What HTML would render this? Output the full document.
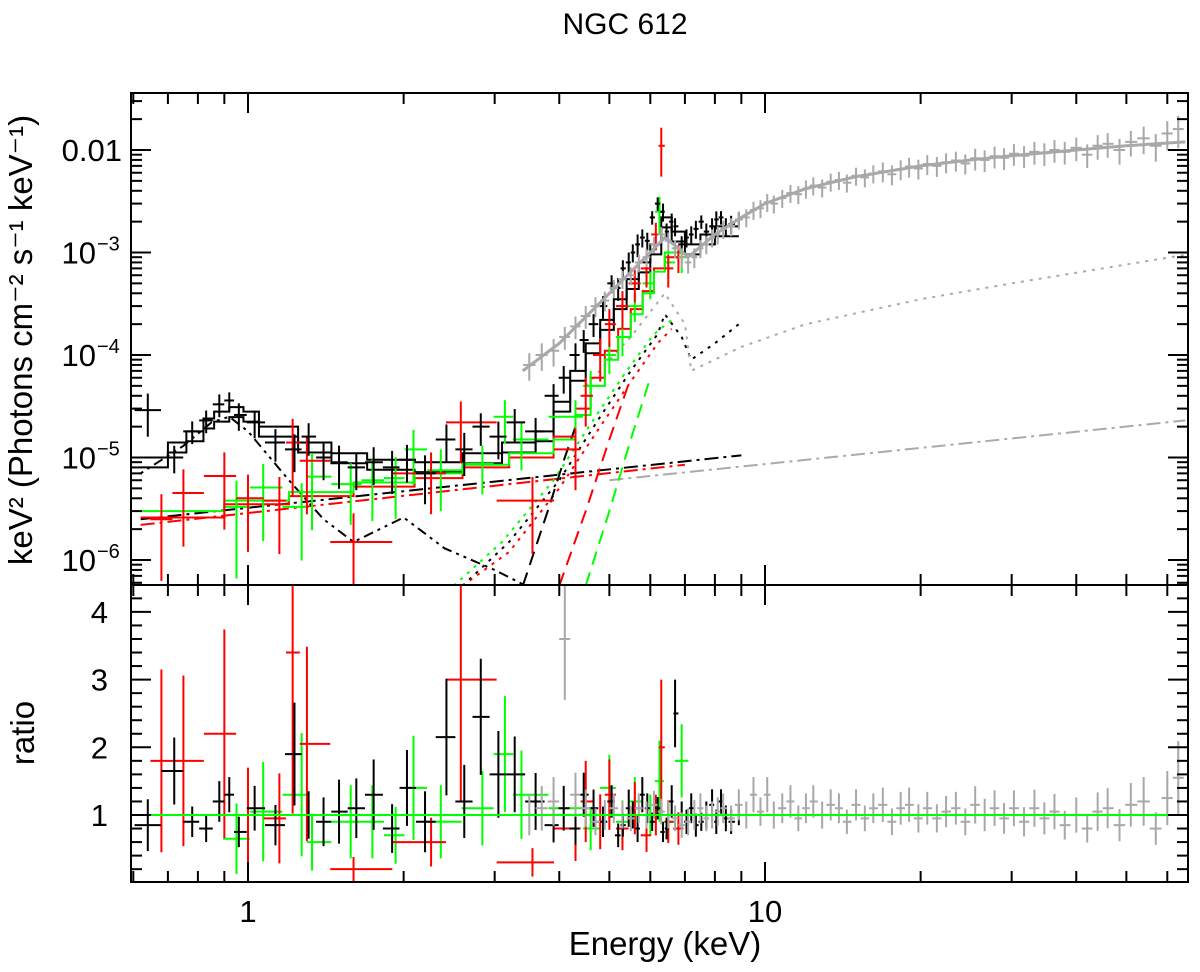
<!DOCTYPE html>
<html><head><meta charset="utf-8"><style>
body{margin:0;background:#fff}
svg{display:block;font-family:"Liberation Sans",sans-serif}
</style></head><body>
<svg id="c" width="1200" height="972" xmlns="http://www.w3.org/2000/svg">
<text x="625" y="34" font-size="30" text-anchor="middle">NGC 612</text>
<text transform="translate(32,340) rotate(-90)" font-size="33" text-anchor="middle">keV² (Photons cm⁻² s⁻¹ keV⁻¹)</text>
<text transform="translate(34,733) rotate(-90)" font-size="33" text-anchor="middle">ratio</text>
<text x="665" y="955" font-size="33" text-anchor="middle">Energy (keV)</text>
<g id="marks"></g>
<g id="axes"></g>
</svg>
<script>
const blackE=[0.64,0.72,0.78,0.83,0.88,0.92,0.96,1.03,1.13,1.23,1.31,1.40,1.50,1.62,1.75,1.90,2.03,2.20,2.42,2.62,2.82,3.05,3.28,3.6,3.9,4.08,4.3,4.46,4.66,4.86,5.05,5.2,5.31,5.45,5.55,5.67,5.79,5.92,6.05,6.2,6.35,6.45,6.6,6.7,6.9,7.05,7.2,7.35,7.53,7.7,7.9,8.05,8.22,8.4,8.6,8.9];
const blackF=[2.9e-5,1.0e-5,1.8e-5,2.3e-5,3.3e-5,3.6e-5,2.6e-5,2.2e-5,1.4e-5,1.2e-5,1.6e-5,1.0e-5,9e-6,8e-6,9e-6,8e-6,9.5e-6,7e-6,1.5e-5,1.2e-5,2.0e-5,1.6e-5,2.2e-5,1.8e-5,4e-5,6e-5,1.0e-4,1.4e-4,2.0e-4,3.0e-4,5e-4,4.5e-4,7e-4,8e-4,1.0e-3,1.2e-3,1.4e-3,1.3e-3,2.2e-3,3e-3,2.5e-3,1.6e-3,2e-3,1.8e-3,1.2e-3,1.4e-3,1.5e-3,1.7e-3,2.0e-3,1.6e-3,1.8e-3,2.1e-3,2.2e-3,1.8e-3,1.9e-3,2.1e-3];
const blackR=[0.85,1.65,0.9,0.8,1.2,1.3,0.75,1.1,0.85,1.9,1.0,0.9,1.05,1.1,1.3,0.8,1.4,0.9,2.15,1.2,2.45,1.6,1.6,1.2,0.85,1.1,0.8,1.3,1.1,0.9,1.2,0.7,0.85,1.1,1.0,0.8,1.3,1.1,0.9,1.1,0.75,0.8,1.2,2.5,1.0,0.9,1.1,0.85,0.9,1.0,1.15,0.9,1.2,0.95,0.9,1.0];
const blackErr=[0.45,0.3,0.25,0.25,0.25,0.2,0.3,0.3,0.35,0.4,0.35,0.4,0.45,0.4,0.4,0.45,0.4,0.5,0.4,0.45,0.35,0.4,0.35,0.35,0.3,0.3,0.3,0.25,0.25,0.25,0.2,0.25,0.2,0.25,0.2,0.25,0.2,0.2,0.15,0.15,0.2,0.2,0.2,0.2,0.2,0.2,0.2,0.2,0.15,0.2,0.2,0.2,0.15,0.2,0.2,0.15];
const redE=[0.68,0.75,0.90,1.0,1.15,1.22,1.30,1.6,2.26,2.58,3.55,4.3,4.5,4.8,5.0,5.3,5.6,5.9,6.15,6.3,6.5,6.8];
const redF=[2.5e-6,4.5e-6,6.6e-6,4e-6,3.8e-6,1.4e-5,9.3e-6,1.5e-6,7e-6,2.2e-5,3.8e-6,1.2e-5,4e-5,1e-4,2e-4,3e-4,5e-4,7e-4,1.5e-3,1.1e-2,7e-4,9e-4];
const redR=[1.8,1.8,2.2,1.0,0.95,3.4,2.05,0.2,0.6,3.0,0.3,0.8,1.2,0.9,1.3,0.8,1.1,0.7,1.0,2.0,0.9,0.8];
const redErr=[0.75,0.7,0.7,0.7,0.7,0.7,0.7,0.9,0.6,0.6,0.7,0.6,0.5,0.45,0.4,0.4,0.35,0.35,0.3,0.5,0.35,0.3];
const greenE=[0.95,1.07,1.27,1.33,1.58,1.74,1.93,2.09,2.36,2.84,3.14,3.38,4.3,4.6,5.0,5.3,5.6,6.0,6.25,6.5,6.9];
const greenF=[3.3e-6,5.1e-6,3.3e-6,6.5e-6,5.5e-6,6e-6,6.3e-6,1.2e-5,7.5e-6,8.7e-6,2.5e-5,1.5e-5,2.5e-5,5e-5,1e-4,1.5e-4,3e-4,5e-4,2.5e-3,8e-4,9e-4];
const greenR=[0.65,1.05,1.3,0.6,0.9,0.9,0.7,1.4,0.9,1.1,1.9,1.3,1.1,0.8,1.4,0.9,1.2,1.0,1.5,0.9,1.8];
const greenErr=[0.8,0.7,0.7,0.7,0.6,0.6,0.6,0.55,0.6,0.5,0.45,0.5,0.45,0.4,0.35,0.35,0.3,0.3,0.4,0.3,0.3];
const greyE=[3.5,3.7,3.9,4.1,4.3,4.5,4.7,4.9,5.1,5.3,5.5,5.7,5.9,6.1,6.3,6.5,6.7,6.9,7.1,7.3,7.5,7.7,7.9,8.1,8.3,8.6,8.9,9.2,9.5,9.8,10.1,10.4,10.8,11.2,11.6,12,12.4,12.9,13.4,13.9,14.4,15,15.6,16.2,16.9,17.6,18.3,19,19.8,20.6,21.5,22.4,23.4,24.4,25.5,26.6,27.8,29,30.3,31.7,33.2,34.7,36.3,38,40,42,44,46,48.5,51,54,57,60,63];
const greyF=[8e-5,1e-4,1.1e-4,1.5e-4,1.9e-4,2.4e-4,3e-4,3.4e-4,4.5e-4,5.5e-4,6e-4,8e-4,9e-4,1.2e-3,1.5e-3,1.3e-3,1.1e-3,9e-4,8e-4,9e-4,1.1e-3,1.2e-3,1.4e-3,1.5e-3,1.7e-3,1.8e-3,2.1e-3,2.2e-3,2.6e-3,2.7e-3,3.1e-3,3e-3,3.4e-3,3.8e-3,3.7e-3,4.2e-3,4.5e-3,4.3e-3,4.9e-3,5.1e-3,4.8e-3,5.6e-3,5.4e-3,5.9e-3,6.2e-3,5.8e-3,6.5e-3,6.9e-3,6.6e-3,7.3e-3,7e-3,7.6e-3,7.9e-3,7.4e-3,8.3e-3,8e-3,8.7e-3,8.4e-3,9.2e-3,8.8e-3,9.6e-3,9.3e-3,1.0e-2,9.6e-3,1.05e-2,9e-3,1.1e-2,1.15e-2,1.0e-2,1.2e-2,1.3e-2,1.1e-2,1.45e-2,1.6e-2];
const greyR=[1.0,1.1,1.2,3.6,1.3,1.1,0.9,1.0,1.1,1.0,0.95,1.1,1.0,1.15,1.05,1.0,0.95,0.85,0.9,1.0,1.1,0.95,1.0,1.05,1.1,0.95,1.15,1.0,1.3,1.05,1.3,1.0,1.1,1.2,0.95,1.1,1.2,1.0,1.15,1.1,0.9,1.15,0.95,1.1,1.15,0.9,1.1,1.15,0.95,1.1,0.95,1.05,1.1,0.9,1.15,1.0,1.1,0.95,1.1,0.9,1.1,0.95,1.05,0.85,1.0,0.8,1.05,1.1,0.85,1.15,1.2,0.8,1.25,1.55];
const greyErr=[0.3,0.3,0.3,0.25,0.25,0.25,0.22,0.22,0.2,0.2,0.2,0.2,0.2,0.18,0.18,0.2,0.2,0.22,0.22,0.22,0.2,0.2,0.2,0.2,0.2,0.2,0.2,0.2,0.2,0.2,0.2,0.2,0.2,0.2,0.2,0.2,0.2,0.2,0.2,0.2,0.2,0.2,0.2,0.2,0.22,0.22,0.22,0.22,0.22,0.22,0.22,0.22,0.22,0.22,0.24,0.24,0.24,0.24,0.24,0.24,0.25,0.25,0.25,0.25,0.26,0.26,0.27,0.27,0.28,0.28,0.3,0.3,0.32,0.35];
const blackModelE=[0.62,0.70,0.76,0.82,0.86,0.92,0.98,1.05,1.25,1.45,1.7,2.1,2.6,3.1,3.6,3.9,4.2,4.5,4.8,5.1,5.4,5.7,6.0,6.3,6.6,7.0,7.5,8.0,8.9];
const blackModelF=[1.0e-5,1.4e-5,1.8e-5,2.4e-5,2.8e-5,3.1e-5,2.8e-5,2.0e-5,1.4e-5,1.1e-5,9.5e-6,9e-6,1.1e-5,1.4e-5,1.8e-5,3.5e-5,7e-5,1.3e-4,2.2e-4,3.5e-4,5.5e-4,8e-4,1.2e-3,2.2e-3,1.6e-3,1.2e-3,1.5e-3,1.8e-3,2.0e-3];
const redModelE=[0.62,0.9,1.2,1.6,2.1,2.6,3.2,3.9,4.3,4.6,4.9,5.2,5.5,5.8,6.1,6.4,6.8];
const redModelF=[2.6e-6,3.5e-6,4.2e-6,5.2e-6,6.3e-6,8e-6,1.0e-5,1.6e-5,3e-5,6e-5,1.1e-4,1.8e-4,2.8e-4,4.2e-4,7e-4,9e-4,8e-4];
const greenModelE=[0.62,0.9,1.2,1.6,2.1,2.6,3.2,3.9,4.3,4.6,4.9,5.2,5.5,5.8,6.1,6.4,6.9];
const greenModelF=[3.0e-6,3.8e-6,4.6e-6,5.7e-6,7e-6,8.5e-6,1.1e-5,1.5e-5,2.6e-5,5e-5,9e-5,1.5e-4,2.5e-4,4e-4,6.5e-4,1e-3,9e-4];
const greyModelE=[3.4,4,5,6,6.4,6.8,7.1,8,9,10,12,15,20,25,30,40,50,65];
const greyModelF=[7e-5,1.3e-4,4e-4,1e-3,1.4e-3,1.1e-3,9e-4,1.5e-3,2.2e-3,3e-3,4.2e-3,5.5e-3,7e-3,8e-3,8.8e-3,1.0e-2,1.1e-2,1.2e-2];
const pexBlackE=[0.62,9.0], pexBlackF=[2.5e-6,1.05e-5];
const pexRedE=[0.62,7.0], pexRedF=[2.2e-6,8.5e-6];
const pexGreyE=[5.0,65], pexGreyF=[6e-6,2.3e-5];
const thermE=[0.62,0.75,0.85,0.92,1.0,1.2,1.4,1.6,2.0,2.4,3.0,3.6];
const thermF=[7e-6,1.3e-5,2.2e-5,2.5e-5,1.8e-5,6e-6,2.5e-6,1.5e-6,2.6e-6,1.3e-6,8e-7,5e-7];
const reflBlackE=[2.6,3.2,4.0,4.8,5.5,6.2,6.4,6.9,7.2,8.0,8.9];
const reflBlackF=[5.6e-7,1.5e-6,6e-6,2.5e-5,7e-5,1.6e-4,2.5e-4,1.5e-4,9e-5,1.3e-4,2e-4];
const reflRedE=[2.6,3.2,4.0,4.8,5.5,6.2,6.6];
const reflRedF=[5.6e-7,1.2e-6,5e-6,2e-5,5.5e-5,1.3e-4,1.8e-4];
const reflGreenE=[2.5,3.1,3.9,4.7,5.4,6.1,6.6];
const reflGreenF=[5.6e-7,1.5e-6,6e-6,2.5e-5,7e-5,1.6e-4,2.2e-4];
const reflGreyE=[4.5,5.5,6.4,7.0,7.2,9,12,20,30,45,65];
const reflGreyF=[5e-5,1.5e-4,4e-4,2e-4,7e-5,1.2e-4,2e-4,3.5e-4,5e-4,7e-4,9.5e-4];
const absBlackE=[3.4,3.8,4.1,4.3], absBlackF=[5.6e-7,3e-6,1e-5,2e-5];
const absRedE=[4.0,4.5,5.0,5.5], absRedF=[5.6e-7,3e-6,1.5e-5,6e-5];
const absGreenE=[4.5,5.0,5.5,6.0], absGreenF=[5.6e-7,3e-6,1.5e-5,6e-5];

const L=131,R=1188,T1=93,B1=585,B2=882;
const X0=248,DEC=517;
const xs=e=>X0+DEC*Math.log10(e);
const yt=f=>150-102.5*(Math.log10(f)+2);
const yr=r=>815-67.7*(r-1);
const NS='http://www.w3.org/2000/svg';
const marks=document.getElementById('marks'), axes=document.getElementById('axes');
function mk(tag,attrs,parent){const el=document.createElementNS(NS,tag);for(const k in attrs)el.setAttribute(k,attrs[k]);parent.appendChild(el);return el;}
const defs=mk('defs',{},marks);
const c1=mk('clipPath',{id:'cTop'},defs);mk('rect',{x:L,y:T1,width:R-L,height:B1-T1},c1);
const c2=mk('clipPath',{id:'cBot'},defs);mk('rect',{x:L,y:B1,width:R-L,height:B2-B1},c2);
const gTop=mk('g',{'clip-path':'url(#cTop)'},marks);


const gBot=mk('g',{'clip-path':'url(#cBot)'},marks);



function series(E,F,Rt,Er,color,name){
  for(let i=0;i<E.length;i++){
    const lo=i>0?Math.sqrt(E[i-1]*E[i]):E[i]/Math.sqrt(E[i+1]/E[i]);
    const hi=i<E.length-1?Math.sqrt(E[i]*E[i+1]):E[i]*Math.sqrt(E[i]/E[i-1]);
    const x=xs(E[i]);
    const g=mk('g',{stroke:color,'stroke-width':2},gTop);
    
    
    mk('line',{x1:xs(lo),x2:xs(hi),y1:yt(F[i]),y2:yt(F[i])},g);
    mk('line',{x1:x,x2:x,y1:yt(F[i]*(1+Er[i])),y2:yt(Math.max(F[i]*(1-Er[i]),1e-8))},g);
    const g2=mk('g',{stroke:color,'stroke-width':2},gBot);
    
    
    mk('line',{x1:xs(lo),x2:xs(hi),y1:yr(Rt[i]),y2:yr(Rt[i])},g2);
    mk('line',{x1:x,x2:x,y1:yr(Rt[i]*(1+Er[i])),y2:yr(Rt[i]*(1-Er[i]))},g2);
  }
}
function step(E,F,color,name){
  let d='';
  for(let i=0;i<E.length-1;i++){d+=(i?'L':'M')+xs(E[i])+','+yt(F[i])+'L'+xs(E[i+1])+','+yt(F[i]);}
  const p=mk('path',{d,fill:'none',stroke:color,'stroke-width':2},gTop);
  
  
}
function line(E,F,color,dash,name,w){
  const d=E.map((e,i)=>(i?'L':'M')+xs(e)+','+yt(F[i])).join('');
  const p=mk('path',{d,fill:'none',stroke:color,'stroke-width':w||2,'stroke-dasharray':dash},gTop);
  
  
}
line(pexBlackE,pexBlackF,'#000','14,5,3,5','black-scattered-powerlaw');
line(pexRedE,pexRedF,'#f00','14,5,3,5','red-scattered-powerlaw');
line(pexGreyE,pexGreyF,'#aaa','14,5,3,5','grey-scattered-powerlaw');
line(thermE,thermF,'#000','3,5,3,5,10,5','thermal-component');
line(reflBlackE,reflBlackF,'#000','3,6','black-reflection');
line(reflRedE,reflRedF,'#f00','3,6','red-reflection');
line(reflGreenE,reflGreenF,'#0f0','3,6','green-reflection');
line(reflGreyE,reflGreyF,'#aaa','3,6','grey-reflection');
line(absBlackE,absBlackF,'#000','14,8','black-absorbed-powerlaw');
line(absRedE,absRedF,'#f00','14,8','red-absorbed-powerlaw');
line(absGreenE,absGreenF,'#0f0','14,8','green-absorbed-powerlaw');
step(blackModelE,blackModelF,'#000','black-model');
step(blackModelE,blackModelF.map(v=>v*0.8),'#000','black-model-2');
step(redModelE,redModelF,'#f00','red-model');
step(greenModelE,greenModelF,'#0f0','green-model');
series(greenE,greenF,greenR,greenErr,'#0f0','green');
series(redE,redF,redR,redErr,'#f00','red');
series(blackE,blackF,blackR,blackErr,'#000','black');
series(greyE,greyF,greyR,greyErr,'#a8a8a8','grey');
line(greyModelE,greyModelF,'#a8a8a8','none','grey-model',3);
const one=mk('line',{x1:L,x2:R,y1:yr(1),y2:yr(1),stroke:'#0f0','stroke-width':2},gBot);



const f1=mk('rect',{x:L,y:T1,width:R-L,height:B1-T1,fill:'none',stroke:'#000','stroke-width':2},axes);


const f2=mk('rect',{x:L,y:B1,width:R-L,height:B2-B1,fill:'none',stroke:'#000','stroke-width':2},axes);


const xt=[];
for(const dec of [0.1,1,10])for(let k=1;k<10;k++){const v=k*dec;if(v>0.59&&v<66)xt.push(v);}
xt.forEach(v=>{
  const x=xs(v),maj=(v===1||v===10),len=maj?20:11;
  for(const [y,dir] of [[T1,1],[B1,-1],[B1,1],[B2,-1]]){
    const t=mk('line',{x1:x,x2:x,y1:y,y2:y+dir*len,stroke:'#000','stroke-width':2},axes);
    
    
  }
});
const xtl=[1,10];
xtl.forEach(v=>{
  const t=mk('text',{x:xs(v),y:922,'font-size':31,'text-anchor':'middle'},axes);t.textContent=String(v);
  
  
});
for(let p=-7;p<=-1;p++)for(let k=1;k<10;k++){
  const v=k*Math.pow(10,p),y=yt(v);if(y<T1||y>B1)continue;
  const len=k===1?20:11;
  for(const [x,dir] of [[L,1],[R,-1]]){
    const t=mk('line',{x1:x,x2:x+dir*len,y1:y,y2:y,stroke:'#000','stroke-width':2},axes);
    
    
  }
}
const ytl=[['0.01',''],['10','−3'],['10','−4'],['10','−5'],['10','−6']];
const ytv=[1e-2,1e-3,1e-4,1e-5,1e-6];
ytv.forEach((v,i)=>{
  const t=mk('text',{x:i?96:122,y:yt(v)+11,'font-size':31,'text-anchor':'end'},axes);
  t.textContent=ytl[i][0];
  
  
  if(ytl[i][1]){const s=mk('text',{x:97,y:yt(v)-2,'font-size':20},axes);s.textContent=ytl[i][1];
    
    }
});
for(let r=0.2;r<4.41;r+=0.2){
  const rr=Math.round(r*10)/10,y=yr(rr);const maj=Math.abs(rr-Math.round(rr))<1e-6;
  const len=maj?20:11;
  for(const [x,dir] of [[L,1],[R,-1]]){
    const t=mk('line',{x1:x,x2:x+dir*len,y1:y,y2:y,stroke:'#000','stroke-width':2},axes);
    
    
  }
}
const rtl=[1,2,3,4];
rtl.forEach(v=>{
  const t=mk('text',{x:108,y:yr(v)+11,'font-size':31,'text-anchor':'end'},axes);t.textContent=String(v);
  
  
});
</script>
</body></html>
